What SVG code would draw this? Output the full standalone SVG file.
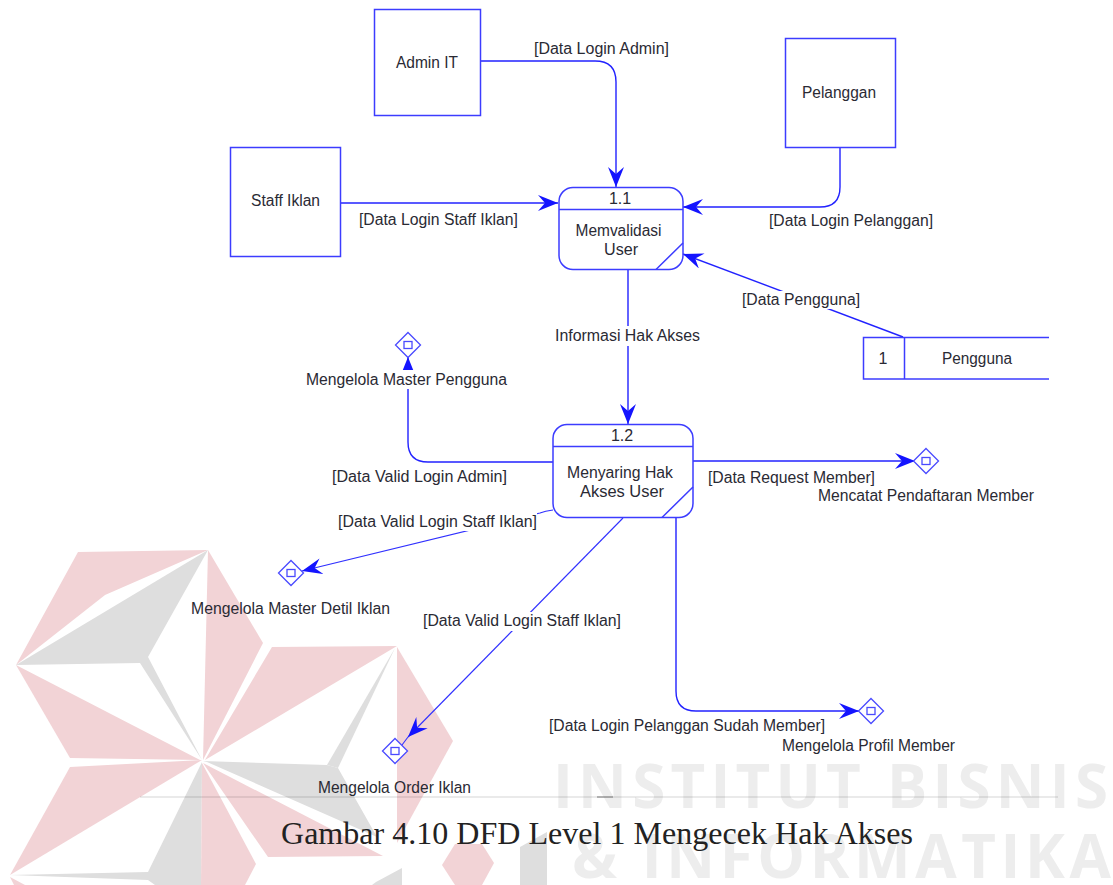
<svg xmlns="http://www.w3.org/2000/svg" width="1113" height="885" viewBox="0 0 1113 885">
<style>
.p{fill:#f2d3d6}
.g{fill:#dedede}
.wm{font-family:"Open Sans","Liberation Sans",sans-serif;font-weight:700;font-size:60px;fill:#ededed}
.t{font-family:"Liberation Sans",Arial,sans-serif;font-size:16px;fill:#2a2a34}
.c{text-anchor:middle}
.n{fill:none;stroke:#3c3cff;stroke-width:1.5}
.d{fill:#fff;stroke:#4a4aff;stroke-width:1.3}
.l{fill:none;stroke:#2222ff;stroke-width:1.4}
.s{fill:none;stroke:#3030ff;stroke-width:1.1}
.m{fill:#fff}
</style>
<defs>
<marker id="a" markerUnits="userSpaceOnUse" markerWidth="22" markerHeight="18" refX="20" refY="8" orient="auto"><path d="M0 0L20 8L0 16L7 8Z" fill="#1414ff"/></marker>
<g id="dia"><path class="d" d="M0 -12.5L12.5 0L0 12.5L-12.5 0Z"/><rect class="d" x="-4" y="-3.5" width="8" height="7"/></g>
</defs>
<g id="watermark">
<polygon class="p" points="78,552 208,550 105,595 16,665"/>
<polygon class="g" points="16,665 208,550 148,657 202,760 140,663"/>
<polygon class="p" points="208,550 263,643 203,760"/>
<polygon class="p" points="16,665 200,760 70,758"/>
<polygon class="p" points="272,647 397,646 205,760"/>
<polygon class="g" points="395,648 327,765 338,768"/>
<polygon class="g" points="203,761 327,765 338,768 377,837 207,762"/>
<polygon class="p" points="203,763 383,856 268,857"/>
<polygon class="p" points="397,647 453,741 397,843"/>
<polygon class="p" points="70,767 202,760 10,875"/>
<polygon class="g" points="10,875 148,872 202,762 201,885 155,885 148,880"/>
<polygon class="p" points="202,763 256,864 245,885 201,885"/>
<polygon class="p" points="10,877 25,885 14,885"/>
<polygon class="p" points="442,865 455,844 482,844 494,863 482,885 455,885"/>
<polygon class="g" points="402,868 376,882 372,885 402,885"/>
<polygon class="g" points="520,847 547,832 547,885 520,885"/>
<text class="wm" x="553" y="808" textLength="555">INSTITUT BISNIS</text>
<text class="wm" x="572" y="878" textLength="539">&amp; INFORMATIKA</text>
</g>
<g id="connectors">
<path class="l" d="M480 61H595Q616 61 616 82V187" marker-end="url(#a)"/>
<path class="l" d="M340 203H558" marker-end="url(#a)"/>
<path class="l" d="M840 147V187Q840 207 820 207H683" marker-end="url(#a)"/>
<path class="l" d="M903 337L683 254" marker-end="url(#a)"/>
<path class="l" d="M628 270V424" marker-end="url(#a)"/>
<path class="l" d="M553 462H428Q408 462 408 442V357" marker-end="url(#a)"/>
<path class="l" d="M693 461H915" marker-end="url(#a)"/>
<path class="s" d="M553 510Q545 511 540 513L302 571" marker-end="url(#a)"/>
<path class="s" d="M623 518L408 737" marker-end="url(#a)"/>
<path class="s" d="M408 737L402 745"/>
<path class="l" d="M676 518V691Q676 711 696 711H859" marker-end="url(#a)"/>
<text class="t" x="534" y="54" textLength="135" lengthAdjust="spacingAndGlyphs">[Data Login Admin]</text>
<text class="t" x="359" y="225" textLength="159" lengthAdjust="spacingAndGlyphs">[Data Login Staff Iklan]</text>
<text class="t" x="769" y="226" textLength="164" lengthAdjust="spacingAndGlyphs">[Data Login Pelanggan]</text>
<rect class="m" x="742" y="291" width="118" height="18"/><text class="t" x="742" y="305" textLength="118" lengthAdjust="spacingAndGlyphs">[Data Pengguna]</text>
<rect class="m" x="555" y="326" width="145" height="20"/><text class="t" x="555" y="341" textLength="145" lengthAdjust="spacingAndGlyphs">Informasi Hak Akses</text>
<text class="t" x="332" y="482" textLength="175" lengthAdjust="spacingAndGlyphs">[Data Valid Login Admin]</text>
<text class="t" x="708" y="483" textLength="167" lengthAdjust="spacingAndGlyphs">[Data Request Member]</text>
<rect class="m" x="338" y="513" width="199" height="18"/><text class="t" x="338" y="527" textLength="199" lengthAdjust="spacingAndGlyphs">[Data Valid Login Staff Iklan]</text>
<rect class="m" x="423" y="612" width="198" height="19"/><text class="t" x="423" y="626" textLength="198" lengthAdjust="spacingAndGlyphs">[Data Valid Login Staff Iklan]</text>
<text class="t" x="549" y="731" textLength="276" lengthAdjust="spacingAndGlyphs">[Data Login Pelanggan Sudah Member]</text>
</g>
<g id="admin-it"><rect class="n" x="374.500" y="9.500" width="106" height="106"/><text class="t" x="396" y="68" textLength="62" lengthAdjust="spacingAndGlyphs">Admin IT</text></g>
<g id="pelanggan"><rect class="n" x="785.500" y="38.500" width="110" height="109"/><text class="t" x="802" y="98" textLength="74" lengthAdjust="spacingAndGlyphs">Pelanggan</text></g>
<g id="staff-iklan"><rect class="n" x="230.500" y="147.500" width="110" height="109"/><text class="t" x="251" y="206" textLength="69" lengthAdjust="spacingAndGlyphs">Staff Iklan</text></g>
<g id="process-1-1"><rect class="n" x="559" y="187.500" width="124" height="82" rx="14"/><path class="n" d="M559 209.500H683M656 269.500L683 243"/><text class="t c" x="620" y="204">1.1</text><text class="t" x="575.500" y="236" textLength="86" lengthAdjust="spacingAndGlyphs">Memvalidasi</text><text class="t" x="604" y="255" textLength="34" lengthAdjust="spacingAndGlyphs">User</text></g>
<g id="process-1-2"><rect class="n" x="553" y="424.500" width="140" height="93" rx="14"/><path class="n" d="M553 446.500H693M662 517.500L693 487"/><text class="t c" x="622" y="441">1.2</text><text class="t" x="567" y="478" textLength="106" lengthAdjust="spacingAndGlyphs">Menyaring Hak</text><text class="t" x="580" y="497" textLength="84" lengthAdjust="spacingAndGlyphs">Akses User</text></g>
<g id="store-pengguna"><path class="n" d="M1049 337.500H863.500V379H1049M904.500 337.500V379"/><text class="t c" x="883" y="364">1</text><text class="t" x="942" y="364" textLength="70" lengthAdjust="spacingAndGlyphs">Pengguna</text></g>
<g id="ref-master-pengguna"><use href="#dia" x="408" y="345"/><rect class="m" x="306" y="370" width="201" height="19"/><text class="t" x="306" y="385" textLength="201" lengthAdjust="spacingAndGlyphs">Mengelola Master Pengguna</text></g>
<g id="ref-pendaftaran"><use href="#dia" x="926" y="461"/><text class="t" x="818" y="501" textLength="216" lengthAdjust="spacingAndGlyphs">Mencatat Pendaftaran Member</text></g>
<g id="ref-master-detil"><use href="#dia" x="291" y="573"/><text class="t" x="191" y="614" textLength="199" lengthAdjust="spacingAndGlyphs">Mengelola Master Detil Iklan</text></g>
<g id="ref-order"><use href="#dia" x="395" y="751"/><text class="t" x="318" y="793" textLength="153" lengthAdjust="spacingAndGlyphs">Mengelola Order Iklan</text></g>
<g id="ref-profil"><use href="#dia" x="871" y="711"/><text class="t" x="782" y="751" textLength="173" lengthAdjust="spacingAndGlyphs">Mengelola Profil Member</text></g>
<g id="caption">
<path d="M140 797H1058" stroke="#000" stroke-opacity=".17" stroke-width="1.200"/>
<path d="M597 797H613" stroke="#777" stroke-width="1"/>
<text x="281" y="844" textLength="632" style="font-family:'Liberation Serif','Times New Roman',serif;font-size:32px;fill:#222">Gambar 4.10 DFD Level 1 Mengecek Hak Akses</text>
</g>
</svg>
